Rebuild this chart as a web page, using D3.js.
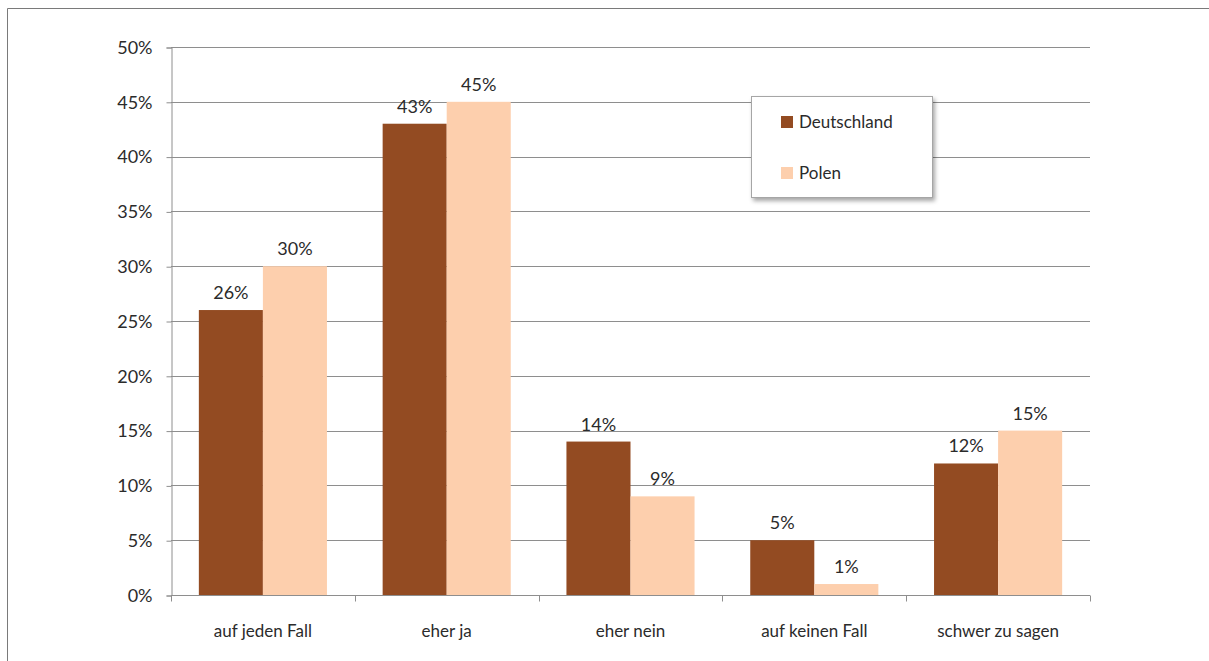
<!DOCTYPE html>
<html>
<head>
<meta charset="utf-8">
<script src="https://cdn.jsdelivr.net/npm/d3@7"></script>
<style>
  html, body { margin: 0; padding: 0; background: #fff; }
  svg text { font-family: Lato, "Open Sans", sans-serif; fill: #2b2b2b; }
</style>
</head>
<body>
<svg id="chart" width="1209" height="661"></svg>
<script>
// Survey answers, share of respondents per country
const categories = ["auf jeden Fall", "eher ja", "eher nein", "auf keinen Fall", "schwer zu sagen"];
const seriesNames = ["Deutschland", "Polen"];
const deutschland = [26, 43, 14, 5, 12];
const polen = [30, 45, 9, 1, 15];
const yTicks = [0, 5, 10, 15, 20, 25, 30, 35, 40, 45, 50];

const colors = { Deutschland: "#934b22", Polen: "#fdcfad" };
const series = [
  { name: seriesNames[0], values: deutschland },
  { name: seriesNames[1], values: polen }
];

const svg = d3.select("#chart");
const plot = { left: 171, right: 1090, top: 47, bottom: 595 };

// outer frame (top and left edges)
svg.append("path")
  .attr("d", "M7.5,661 L7.5,8.5 L1209,8.5")
  .attr("fill", "none").attr("stroke", "#7a7a7a").attr("stroke-width", 1);

const x = d3.scaleBand().domain(categories).range([plot.left, plot.right]).padding(0);
const groupWidth = x.bandwidth() * 0.697;
const xs = d3.scaleBand().domain(seriesNames).range([0, groupWidth]).padding(0);
const y = d3.scaleLinear().domain([0, 50]).range([plot.bottom, plot.top]);

// horizontal grid
svg.append("g").selectAll("line").data(yTicks.slice(1)).join("line")
  .attr("x1", plot.left).attr("x2", plot.right)
  .attr("y1", d => Math.round(y(d)) + 0.5).attr("y2", d => Math.round(y(d)) + 0.5)
  .attr("stroke", "#8e8e8e").attr("stroke-width", 1);

// y axis
const yAxis = svg.append("g")
  .attr("transform", `translate(${plot.left + 0.5},0.5)`)
  .call(d3.axisLeft(y).tickValues(yTicks).tickFormat(d => d + "%").tickSize(5).tickPadding(14));
yAxis.select(".domain").attr("stroke", "#8e8e8e");
yAxis.selectAll(".tick line").attr("stroke", "#8e8e8e");
yAxis.selectAll(".tick text").attr("font-size", 18).attr("fill", "#2b2b2b");

// bars
const groups = svg.append("g").selectAll("g").data(series).join("g")
  .attr("fill", d => colors[d.name]);
groups.selectAll("rect").data(d => d.values.map((v, i) => ({ name: d.name, cat: categories[i], v })))
  .join("rect")
  .attr("x", d => x(d.cat) + (x.bandwidth() - groupWidth) / 2 + xs(d.name))
  .attr("width", xs.bandwidth())
  .attr("y", d => y(d.v))
  .attr("height", d => y(0) - y(d.v));

// value labels
svg.append("g").selectAll("text")
  .data(series.flatMap(s => s.values.map((v, i) => ({ name: s.name, cat: categories[i], v }))))
  .join("text")
  .attr("x", d => x(d.cat) + (x.bandwidth() - groupWidth) / 2 + xs(d.name) + xs.bandwidth() / 2)
  .attr("y", d => y(d.v) - 11)
  .attr("text-anchor", "middle")
  .attr("font-size", 18)
  .text(d => d.v + "%");

// x axis with ticks between categories
const xAxisG = svg.append("g").attr("transform", `translate(0,${plot.bottom + 0.5})`);
xAxisG.append("line").attr("x1", plot.left).attr("x2", plot.right)
  .attr("stroke", "#8e8e8e");
const boundaries = categories.map(c => x(c)).concat([plot.right]);
xAxisG.selectAll("line.tk").data(boundaries).join("line").attr("class", "tk")
  .attr("x1", d => Math.round(d) + 0.5).attr("x2", d => Math.round(d) + 0.5)
  .attr("y1", 0).attr("y2", 6).attr("stroke", "#8e8e8e");
xAxisG.selectAll("text").data(categories).join("text")
  .attr("x", d => x(d) + x.bandwidth() / 2)
  .attr("y", 41)
  .attr("text-anchor", "middle")
  .attr("font-size", 17)
  .text(d => d);

// legend
const legend = svg.append("g").attr("transform", "translate(751,96)");
const defs = svg.append("defs");
const f = defs.append("filter").attr("id", "shadow").attr("x", "-10%").attr("y", "-10%").attr("width", "130%").attr("height", "140%");
f.append("feDropShadow").attr("dx", 2).attr("dy", 3).attr("stdDeviation", 2).attr("flood-color", "#000").attr("flood-opacity", 0.35);
legend.append("rect").attr("x", 0.5).attr("y", 0.5).attr("width", 181).attr("height", 101)
  .attr("fill", "#fff").attr("stroke", "#a6a6a6").attr("filter", "url(#shadow)");
const items = legend.selectAll("g.item").data(seriesNames).join("g").attr("class", "item")
  .attr("transform", (d, i) => `translate(0,${26 + i * 51})`);
items.append("rect").attr("x", 30).attr("y", -6).attr("width", 12).attr("height", 12)
  .attr("fill", d => colors[d]);
items.append("text").attr("x", 48).attr("y", 0).attr("dy", "0.35em")
  .attr("font-size", 17).text(d => d);
</script>
</body>
</html>
